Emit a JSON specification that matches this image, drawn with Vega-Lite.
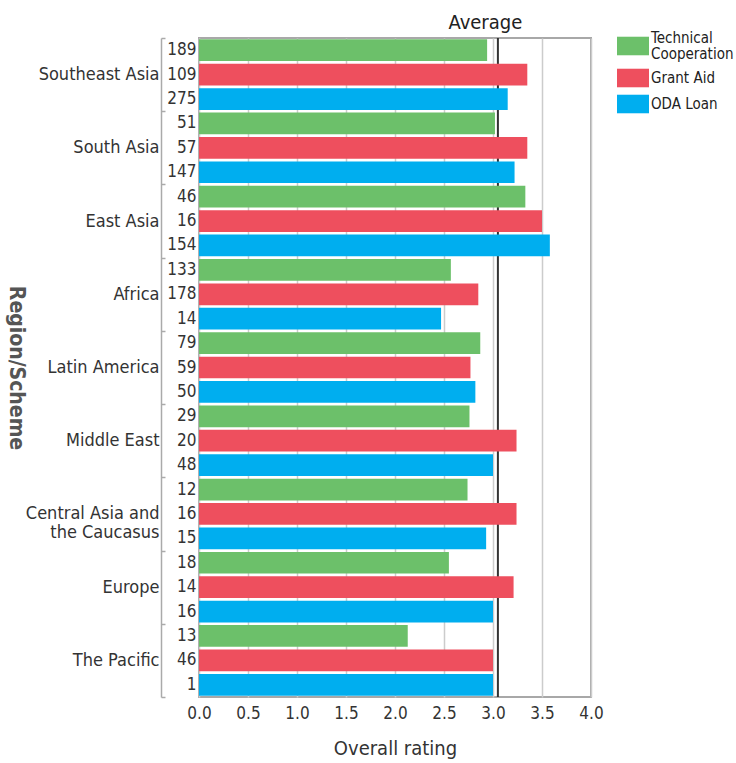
{
  "$schema": "https://vega.github.io/schema/vega-lite/v6.json",
  "width": 392,
  "height": 659,
  "padding": {"left": 5, "top": 12, "right": 0, "bottom": 5},
  "config": {
    "font": "DejaVu Sans Condensed",
    "view": {"stroke": "#a8a8a8", "strokeWidth": 2},
    "axis": {"labelColor": "#333", "titleColor": "#333", "labelFont": "DejaVu Sans Condensed", "titleFont": "DejaVu Sans Condensed"},
    "legend": {"labelFont": "DejaVu Sans Condensed", "padding": 0},
    "style": {"guide-label": {"lineHeight": 16}}
  },
  "data": {
    "values": [
      {"region": "Southeast Asia", "scheme": "Technical Cooperation", "n": 189, "rating": 2.94},
      {"region": "Southeast Asia", "scheme": "Grant Aid", "n": 109, "rating": 3.35},
      {"region": "Southeast Asia", "scheme": "ODA Loan", "n": 275, "rating": 3.15},
      {"region": "South Asia", "scheme": "Technical Cooperation", "n": 51, "rating": 3.02},
      {"region": "South Asia", "scheme": "Grant Aid", "n": 57, "rating": 3.35},
      {"region": "South Asia", "scheme": "ODA Loan", "n": 147, "rating": 3.22},
      {"region": "East Asia", "scheme": "Technical Cooperation", "n": 46, "rating": 3.33},
      {"region": "East Asia", "scheme": "Grant Aid", "n": 16, "rating": 3.5},
      {"region": "East Asia", "scheme": "ODA Loan", "n": 154, "rating": 3.58},
      {"region": "Africa", "scheme": "Technical Cooperation", "n": 133, "rating": 2.57},
      {"region": "Africa", "scheme": "Grant Aid", "n": 178, "rating": 2.85},
      {"region": "Africa", "scheme": "ODA Loan", "n": 14, "rating": 2.47},
      {"region": "Latin America", "scheme": "Technical Cooperation", "n": 79, "rating": 2.87},
      {"region": "Latin America", "scheme": "Grant Aid", "n": 59, "rating": 2.77},
      {"region": "Latin America", "scheme": "ODA Loan", "n": 50, "rating": 2.82},
      {"region": "Middle East", "scheme": "Technical Cooperation", "n": 29, "rating": 2.76},
      {"region": "Middle East", "scheme": "Grant Aid", "n": 20, "rating": 3.24},
      {"region": "Middle East", "scheme": "ODA Loan", "n": 48, "rating": 3.0},
      {"region": "Central Asia and the Caucasus", "scheme": "Technical Cooperation", "n": 12, "rating": 2.74},
      {"region": "Central Asia and the Caucasus", "scheme": "Grant Aid", "n": 16, "rating": 3.24},
      {"region": "Central Asia and the Caucasus", "scheme": "ODA Loan", "n": 15, "rating": 2.93},
      {"region": "Europe", "scheme": "Technical Cooperation", "n": 18, "rating": 2.55},
      {"region": "Europe", "scheme": "Grant Aid", "n": 14, "rating": 3.21},
      {"region": "Europe", "scheme": "ODA Loan", "n": 16, "rating": 3.0},
      {"region": "The Pacific", "scheme": "Technical Cooperation", "n": 13, "rating": 2.13},
      {"region": "The Pacific", "scheme": "Grant Aid", "n": 46, "rating": 3.0},
      {"region": "The Pacific", "scheme": "ODA Loan", "n": 1, "rating": 3.0}
    ]
  },
  "transform": [{"calculate": "datum.region + '|' + datum.n", "as": "key"}],
  "layer": [
    {
      "data": {"values": [{"label": "Average", "avg": 3.05}]},
      "mark": {"type": "rule", "color": "#333", "strokeWidth": 2},
      "encoding": {
        "x": {
          "field": "avg", "type": "quantitative",
          "axis": {"orient": "top", "values": [3.05], "labelExpr": "'Average'", "title": null, "grid": false, "ticks": false, "domain": false, "labelFontSize": 20, "labelPadding": 6, "labelOffset": -13, "labelColor": "#222", "labelFlush": false}
        }
      }
    },
    {
      "mark": {"type": "bar"},
      "encoding": {
        "y": {
          "field": "key", "type": "nominal", "sort": null,
          "scale": {"paddingInner": 0.11, "paddingOuter": 0.055},
          "axis": {"title": null, "labelExpr": "split(datum.value, '|')[1]", "ticks": false, "domain": false, "labelPadding": 3, "labelFontSize": 17}
        },
        "x": {
          "field": "rating", "type": "quantitative",
          "scale": {"domain": [0, 4], "nice": false},
          "axis": {"values": [0, 0.5, 1, 1.5, 2, 2.5, 3, 3.5, 4], "format": ".1f", "title": "Overall rating", "grid": true, "gridColor": "#cccccc", "gridWidth": 1.5, "ticks": false, "domain": false, "labelFlush": false, "labelFontSize": 17, "labelPadding": 8, "titleFontSize": 20, "titleFontWeight": "normal", "titlePadding": 17}
        },
        "color": {
          "field": "scheme", "type": "nominal",
          "scale": {"domain": ["Technical Cooperation", "Grant Aid", "ODA Loan"], "range": ["#6cc06a", "#ee4f5e", "#00aeef"]},
          "legend": {
            "title": null, "orient": "none", "legendX": 418, "legendY": -8,
            "symbolType": "M-1,-0.58H1V0.58H-1Z", "symbolSize": 1024, "symbolStrokeWidth": 0, "symbolOpacity": 1,
            "labelFontSize": 15, "labelColor": "#222", "labelOffset": 2, "rowPadding": 0, "labelLimit": 200,
            "labelBaseline": {"expr": "datum.value == 'Technical Cooperation' ? 'bottom' : 'middle'"},
            "labelExpr": "datum.label == 'Technical Cooperation' ? ['Technical', 'Cooperation'] : datum.label"
          }
        }
      }
    },
    {
      "mark": {"type": "tick", "opacity": 0},
      "encoding": {
        "y": {
          "field": "region", "type": "nominal", "sort": null,
          "scale": {"paddingInner": 0, "paddingOuter": 0},
          "axis": {
            "orient": "left", "offset": 38, "title": "Region/Scheme", "titleAngle": 90, "titleFontSize": 21, "titleFontWeight": "bold", "titleColor": "#555", "titlePadding": 20,
            "domain": true, "domainColor": "#aaaaaa", "domainWidth": 1.5, "ticks": true, "tickBand": "extent", "tickSize": -4, "tickColor": "#aaaaaa", "tickWidth": 1.5,
            "labelFontSize": 18, "labelPadding": 6, "labelLineHeight": 19,
            "labelExpr": "datum.value == 'Central Asia and the Caucasus' ? ['Central Asia and', 'the Caucasus'] : datum.value"
          }
        }
      }
    }
  ],
  "resolve": {"scale": {"y": "independent"}, "axis": {"x": "independent", "y": "independent"}}
}
